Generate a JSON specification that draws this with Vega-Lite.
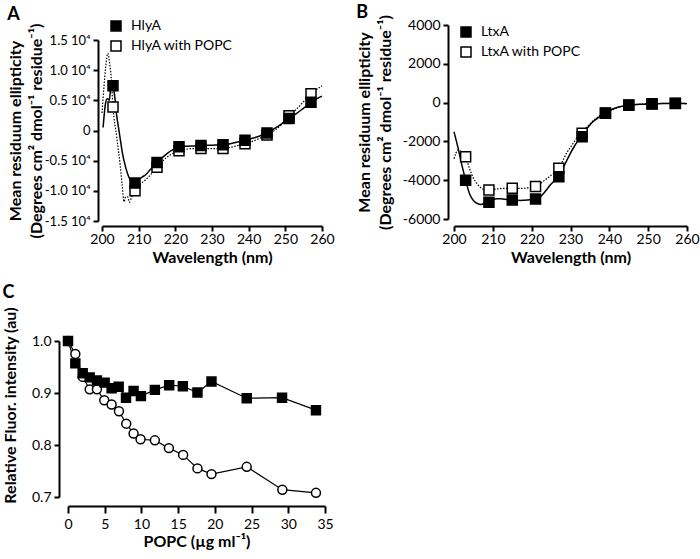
{
 "$schema": "https://vega.github.io/schema/vega-lite/v6.json",
 "padding": {"left": 2, "top": 3, "right": 0, "bottom": 2},
 "background": "white",
 "config": {
  "font": "Lato",
  "view": {"stroke": null},
  "axis": {"grid": false, "domainColor": "black", "domainWidth": 2, "tickColor": "black", "tickWidth": 2, "tickSize": 5, "labelFontSize": 14, "labelColor": "black", "titleFontSize": 16, "titleFontWeight": "bold", "titleColor": "black", "labelPadding": 3, "labelOverlap": false, "labelFlush": false},
  "title": {"fontSize": 18, "fontWeight": "bold", "anchor": "start", "frame": "bounds", "color": "black"},
  "legend": {"orient": "none", "title": null, "labelFontSize": 14, "labelColor": "black", "symbolStrokeColor": "black", "symbolStrokeWidth": 1.5, "labelOffset": 8, "rowPadding": 4}
 },
 "resolve": {"scale": {"fill": "independent", "shape": "independent", "x": "independent", "y": "independent"}, "legend": {"fill": "independent", "shape": "independent"}},
 "columns": 2,
 "spacing": {"row": 18, "column": -3},
 "datasets": {
  "A_curve": [
   {"series": "HlyA", "nm": 200.3, "v": 500}, {"series": "HlyA", "nm": 201, "v": 4600}, {"series": "HlyA", "nm": 201.5, "v": 5300}, {"series": "HlyA", "nm": 202, "v": 5000}, {"series": "HlyA", "nm": 202.5, "v": 7800}, {"series": "HlyA", "nm": 203, "v": 7400}, {"series": "HlyA", "nm": 203.5, "v": 5500}, {"series": "HlyA", "nm": 204, "v": 2500}, {"series": "HlyA", "nm": 204.5, "v": 500}, {"series": "HlyA", "nm": 205, "v": -1500}, {"series": "HlyA", "nm": 205.5, "v": -3500}, {"series": "HlyA", "nm": 206, "v": -5000}, {"series": "HlyA", "nm": 207, "v": -7200}, {"series": "HlyA", "nm": 208, "v": -8400}, {"series": "HlyA", "nm": 209, "v": -8700}, {"series": "HlyA", "nm": 210, "v": -8200}, {"series": "HlyA", "nm": 211, "v": -7700}, {"series": "HlyA", "nm": 212, "v": -7300}, {"series": "HlyA", "nm": 213, "v": -6600}, {"series": "HlyA", "nm": 214, "v": -6000}, {"series": "HlyA", "nm": 215, "v": -5300}, {"series": "HlyA", "nm": 216, "v": -4700}, {"series": "HlyA", "nm": 217, "v": -4200}, {"series": "HlyA", "nm": 218, "v": -3700}, {"series": "HlyA", "nm": 219, "v": -3300}, {"series": "HlyA", "nm": 220, "v": -3000}, {"series": "HlyA", "nm": 221, "v": -2750}, {"series": "HlyA", "nm": 223, "v": -2600}, {"series": "HlyA", "nm": 225, "v": -2550}, {"series": "HlyA", "nm": 227, "v": -2500}, {"series": "HlyA", "nm": 229, "v": -2450}, {"series": "HlyA", "nm": 231, "v": -2400}, {"series": "HlyA", "nm": 233, "v": -2350}, {"series": "HlyA", "nm": 235, "v": -2200}, {"series": "HlyA", "nm": 237, "v": -1900}, {"series": "HlyA", "nm": 239, "v": -1600}, {"series": "HlyA", "nm": 241, "v": -1300}, {"series": "HlyA", "nm": 243, "v": -900}, {"series": "HlyA", "nm": 245, "v": -400}, {"series": "HlyA", "nm": 247, "v": 300}, {"series": "HlyA", "nm": 249, "v": 1100}, {"series": "HlyA", "nm": 251, "v": 2000}, {"series": "HlyA", "nm": 253, "v": 2800}, {"series": "HlyA", "nm": 255, "v": 3700}, {"series": "HlyA", "nm": 257, "v": 4600}, {"series": "HlyA", "nm": 259, "v": 5400}, {"series": "HlyA", "nm": 260, "v": 5700},
   {"series": "HlyA with POPC", "nm": 200, "v": 2900}, {"series": "HlyA with POPC", "nm": 200.5, "v": 7000}, {"series": "HlyA with POPC", "nm": 201, "v": 10500}, {"series": "HlyA with POPC", "nm": 201.6, "v": 12800}, {"series": "HlyA with POPC", "nm": 202, "v": 11500}, {"series": "HlyA with POPC", "nm": 202.5, "v": 8900}, {"series": "HlyA with POPC", "nm": 203, "v": 3900}, {"series": "HlyA with POPC", "nm": 204, "v": -1000}, {"series": "HlyA with POPC", "nm": 205, "v": -6000}, {"series": "HlyA with POPC", "nm": 205.5, "v": -9000}, {"series": "HlyA with POPC", "nm": 206, "v": -11800}, {"series": "HlyA with POPC", "nm": 206.5, "v": -11000}, {"series": "HlyA with POPC", "nm": 207, "v": -11000}, {"series": "HlyA with POPC", "nm": 207.5, "v": -11900}, {"series": "HlyA with POPC", "nm": 208, "v": -11200}, {"series": "HlyA with POPC", "nm": 209, "v": -10000}, {"series": "HlyA with POPC", "nm": 210, "v": -9200}, {"series": "HlyA with POPC", "nm": 211, "v": -8600}, {"series": "HlyA with POPC", "nm": 212, "v": -8100}, {"series": "HlyA with POPC", "nm": 213, "v": -7500}, {"series": "HlyA with POPC", "nm": 214, "v": -6800}, {"series": "HlyA with POPC", "nm": 215, "v": -6100}, {"series": "HlyA with POPC", "nm": 216, "v": -5400}, {"series": "HlyA with POPC", "nm": 217, "v": -4800}, {"series": "HlyA with POPC", "nm": 218, "v": -4300}, {"series": "HlyA with POPC", "nm": 219, "v": -3900}, {"series": "HlyA with POPC", "nm": 220, "v": -3600}, {"series": "HlyA with POPC", "nm": 221, "v": -3350}, {"series": "HlyA with POPC", "nm": 223, "v": -3100}, {"series": "HlyA with POPC", "nm": 225, "v": -3000}, {"series": "HlyA with POPC", "nm": 227, "v": -3000}, {"series": "HlyA with POPC", "nm": 229, "v": -3000}, {"series": "HlyA with POPC", "nm": 231, "v": -3000}, {"series": "HlyA with POPC", "nm": 233, "v": -3000}, {"series": "HlyA with POPC", "nm": 235, "v": -2800}, {"series": "HlyA with POPC", "nm": 237, "v": -2500}, {"series": "HlyA with POPC", "nm": 239, "v": -2200}, {"series": "HlyA with POPC", "nm": 241, "v": -1800}, {"series": "HlyA with POPC", "nm": 243, "v": -1300}, {"series": "HlyA with POPC", "nm": 245, "v": -750}, {"series": "HlyA with POPC", "nm": 247, "v": 0}, {"series": "HlyA with POPC", "nm": 249, "v": 1000}, {"series": "HlyA with POPC", "nm": 251, "v": 2450}, {"series": "HlyA with POPC", "nm": 253, "v": 3500}, {"series": "HlyA with POPC", "nm": 255, "v": 4800}, {"series": "HlyA with POPC", "nm": 257, "v": 6100}, {"series": "HlyA with POPC", "nm": 259, "v": 7000}, {"series": "HlyA with POPC", "nm": 260, "v": 7400}
  ],
  "A_pts": [
   {"series": "HlyA with POPC", "nm": 203, "v": 3900}, {"series": "HlyA with POPC", "nm": 209, "v": -10000}, {"series": "HlyA with POPC", "nm": 215, "v": -6100}, {"series": "HlyA with POPC", "nm": 221, "v": -3350}, {"series": "HlyA with POPC", "nm": 227, "v": -3000}, {"series": "HlyA with POPC", "nm": 233, "v": -3000}, {"series": "HlyA with POPC", "nm": 239, "v": -2200}, {"series": "HlyA with POPC", "nm": 245, "v": -750}, {"series": "HlyA with POPC", "nm": 251, "v": 2450}, {"series": "HlyA with POPC", "nm": 257, "v": 6100},
   {"series": "HlyA", "nm": 203, "v": 7400}, {"series": "HlyA", "nm": 209, "v": -8700}, {"series": "HlyA", "nm": 215, "v": -5300}, {"series": "HlyA", "nm": 221, "v": -2700}, {"series": "HlyA", "nm": 227, "v": -2500}, {"series": "HlyA", "nm": 233, "v": -2350}, {"series": "HlyA", "nm": 239, "v": -1600}, {"series": "HlyA", "nm": 245, "v": -400}, {"series": "HlyA", "nm": 251, "v": 2000}, {"series": "HlyA", "nm": 257, "v": 4700}
  ],
  "B_curve": [
   {"series": "LtxA", "nm": 200, "v": -1500}, {"series": "LtxA", "nm": 201, "v": -2300}, {"series": "LtxA", "nm": 202, "v": -3200}, {"series": "LtxA", "nm": 203, "v": -4000}, {"series": "LtxA", "nm": 204, "v": -4700}, {"series": "LtxA", "nm": 205, "v": -5050}, {"series": "LtxA", "nm": 206, "v": -5200}, {"series": "LtxA", "nm": 207, "v": -5250}, {"series": "LtxA", "nm": 208, "v": -5150}, {"series": "LtxA", "nm": 209, "v": -5100}, {"series": "LtxA", "nm": 210, "v": -5000}, {"series": "LtxA", "nm": 211, "v": -4950}, {"series": "LtxA", "nm": 212, "v": -4950}, {"series": "LtxA", "nm": 213, "v": -4980}, {"series": "LtxA", "nm": 215, "v": -5020}, {"series": "LtxA", "nm": 217, "v": -5040}, {"series": "LtxA", "nm": 219, "v": -5020}, {"series": "LtxA", "nm": 221, "v": -4970}, {"series": "LtxA", "nm": 222, "v": -4900}, {"series": "LtxA", "nm": 223, "v": -4700}, {"series": "LtxA", "nm": 224, "v": -4450}, {"series": "LtxA", "nm": 225, "v": -4200}, {"series": "LtxA", "nm": 226, "v": -4000}, {"series": "LtxA", "nm": 227, "v": -3800}, {"series": "LtxA", "nm": 228, "v": -3400}, {"series": "LtxA", "nm": 229, "v": -3000}, {"series": "LtxA", "nm": 230, "v": -2600}, {"series": "LtxA", "nm": 231, "v": -2250}, {"series": "LtxA", "nm": 232, "v": -1950}, {"series": "LtxA", "nm": 233, "v": -1700}, {"series": "LtxA", "nm": 234, "v": -1400}, {"series": "LtxA", "nm": 235, "v": -1150}, {"series": "LtxA", "nm": 236, "v": -950}, {"series": "LtxA", "nm": 237, "v": -800}, {"series": "LtxA", "nm": 238, "v": -650}, {"series": "LtxA", "nm": 239, "v": -550}, {"series": "LtxA", "nm": 240, "v": -420}, {"series": "LtxA", "nm": 241, "v": -320}, {"series": "LtxA", "nm": 242, "v": -250}, {"series": "LtxA", "nm": 243, "v": -200}, {"series": "LtxA", "nm": 245, "v": -140}, {"series": "LtxA", "nm": 248, "v": -90}, {"series": "LtxA", "nm": 251, "v": -70}, {"series": "LtxA", "nm": 254, "v": -50}, {"series": "LtxA", "nm": 257, "v": -40}, {"series": "LtxA", "nm": 259, "v": -40}, {"series": "LtxA", "nm": 260, "v": -60},
   {"series": "LtxA with POPC", "nm": 200, "v": -2900}, {"series": "LtxA with POPC", "nm": 200.5, "v": -2600}, {"series": "LtxA with POPC", "nm": 201, "v": -2450}, {"series": "LtxA with POPC", "nm": 202, "v": -2550}, {"series": "LtxA with POPC", "nm": 203, "v": -2800}, {"series": "LtxA with POPC", "nm": 204, "v": -3400}, {"series": "LtxA with POPC", "nm": 205, "v": -3900}, {"series": "LtxA with POPC", "nm": 206, "v": -4200}, {"series": "LtxA with POPC", "nm": 207, "v": -4400}, {"series": "LtxA with POPC", "nm": 208, "v": -4500}, {"series": "LtxA with POPC", "nm": 209, "v": -4500}, {"series": "LtxA with POPC", "nm": 211, "v": -4450}, {"series": "LtxA with POPC", "nm": 213, "v": -4420}, {"series": "LtxA with POPC", "nm": 215, "v": -4420}, {"series": "LtxA with POPC", "nm": 217, "v": -4420}, {"series": "LtxA with POPC", "nm": 219, "v": -4400}, {"series": "LtxA with POPC", "nm": 221, "v": -4330}, {"series": "LtxA with POPC", "nm": 222, "v": -4200}, {"series": "LtxA with POPC", "nm": 223, "v": -4050}, {"series": "LtxA with POPC", "nm": 224, "v": -3900}, {"series": "LtxA with POPC", "nm": 225, "v": -3750}, {"series": "LtxA with POPC", "nm": 226, "v": -3600}, {"series": "LtxA with POPC", "nm": 227, "v": -3400}, {"series": "LtxA with POPC", "nm": 228, "v": -3000}, {"series": "LtxA with POPC", "nm": 229, "v": -2600}, {"series": "LtxA with POPC", "nm": 230, "v": -2300}, {"series": "LtxA with POPC", "nm": 231, "v": -2000}, {"series": "LtxA with POPC", "nm": 232, "v": -1750}, {"series": "LtxA with POPC", "nm": 233, "v": -1550}, {"series": "LtxA with POPC", "nm": 234, "v": -1300}, {"series": "LtxA with POPC", "nm": 235, "v": -1100}, {"series": "LtxA with POPC", "nm": 236, "v": -900}, {"series": "LtxA with POPC", "nm": 237, "v": -750}, {"series": "LtxA with POPC", "nm": 238, "v": -620}, {"series": "LtxA with POPC", "nm": 239, "v": -540}, {"series": "LtxA with POPC", "nm": 241, "v": -350}, {"series": "LtxA with POPC", "nm": 243, "v": -200}, {"series": "LtxA with POPC", "nm": 245, "v": -120}, {"series": "LtxA with POPC", "nm": 248, "v": -80}, {"series": "LtxA with POPC", "nm": 251, "v": -60}, {"series": "LtxA with POPC", "nm": 254, "v": -40}, {"series": "LtxA with POPC", "nm": 257, "v": -30}, {"series": "LtxA with POPC", "nm": 260, "v": -40}
  ],
  "B_pts": [
   {"series": "LtxA with POPC", "nm": 203, "v": -2790}, {"series": "LtxA with POPC", "nm": 209, "v": -4500}, {"series": "LtxA with POPC", "nm": 215, "v": -4420}, {"series": "LtxA with POPC", "nm": 221, "v": -4330}, {"series": "LtxA with POPC", "nm": 227, "v": -3390}, {"series": "LtxA with POPC", "nm": 233, "v": -1580}, {"series": "LtxA with POPC", "nm": 239, "v": -540}, {"series": "LtxA with POPC", "nm": 245, "v": -120}, {"series": "LtxA with POPC", "nm": 251, "v": -60}, {"series": "LtxA with POPC", "nm": 257, "v": -30},
   {"series": "LtxA", "nm": 203, "v": -4000}, {"series": "LtxA", "nm": 209, "v": -5140}, {"series": "LtxA", "nm": 215, "v": -5020}, {"series": "LtxA", "nm": 221, "v": -4970}, {"series": "LtxA", "nm": 227, "v": -3820}, {"series": "LtxA", "nm": 233, "v": -1760}, {"series": "LtxA", "nm": 239, "v": -550}, {"series": "LtxA", "nm": 245, "v": -140}, {"series": "LtxA", "nm": 251, "v": -70}, {"series": "LtxA", "nm": 257, "v": -40}
  ],
  "C_pts": [
   {"series": "LtxA", "popc": 0, "f": 1.0}, {"series": "LtxA", "popc": 1.0, "f": 0.975}, {"series": "LtxA", "popc": 2.0, "f": 0.931}, {"series": "LtxA", "popc": 2.95, "f": 0.907}, {"series": "LtxA", "popc": 3.94, "f": 0.907}, {"series": "LtxA", "popc": 4.94, "f": 0.886}, {"series": "LtxA", "popc": 5.94, "f": 0.878}, {"series": "LtxA", "popc": 6.94, "f": 0.865}, {"series": "LtxA", "popc": 7.93, "f": 0.841}, {"series": "LtxA", "popc": 8.93, "f": 0.822}, {"series": "LtxA", "popc": 9.88, "f": 0.811}, {"series": "LtxA", "popc": 11.83, "f": 0.809}, {"series": "LtxA", "popc": 13.74, "f": 0.794}, {"series": "LtxA", "popc": 15.68, "f": 0.781}, {"series": "LtxA", "popc": 17.63, "f": 0.755}, {"series": "LtxA", "popc": 19.54, "f": 0.744}, {"series": "LtxA", "popc": 24.34, "f": 0.758}, {"series": "LtxA", "popc": 29.19, "f": 0.714}, {"series": "LtxA", "popc": 33.77, "f": 0.708},
   {"series": "HlyA", "popc": 0, "f": 1.0}, {"series": "HlyA", "popc": 1.0, "f": 0.957}, {"series": "HlyA", "popc": 2.0, "f": 0.938}, {"series": "HlyA", "popc": 2.95, "f": 0.930}, {"series": "HlyA", "popc": 3.94, "f": 0.924}, {"series": "HlyA", "popc": 4.99, "f": 0.920}, {"series": "HlyA", "popc": 5.94, "f": 0.909}, {"series": "HlyA", "popc": 6.9, "f": 0.912}, {"series": "HlyA", "popc": 7.9, "f": 0.891}, {"series": "HlyA", "popc": 8.93, "f": 0.904}, {"series": "HlyA", "popc": 9.93, "f": 0.894}, {"series": "HlyA", "popc": 11.83, "f": 0.906}, {"series": "HlyA", "popc": 13.78, "f": 0.915}, {"series": "HlyA", "popc": 15.64, "f": 0.913}, {"series": "HlyA", "popc": 17.63, "f": 0.901}, {"series": "HlyA", "popc": 19.54, "f": 0.922}, {"series": "HlyA", "popc": 24.34, "f": 0.890}, {"series": "HlyA", "popc": 29.15, "f": 0.891}, {"series": "HlyA", "popc": 33.77, "f": 0.867}
  ]
 },
 "concat": [
  {
   "title": {"text": "A", "offset": -5},
   "width": 220, "height": 196,
   "resolve": {"scale": {"x": "independent", "y": "independent"}},
   "layer": [
    {
     "data": {"name": "A_curve"},
     "transform": [{"filter": "datum.series == 'HlyA with POPC'"}],
     "mark": {"type": "line", "color": "black", "strokeWidth": 1.2, "strokeDash": [1.5, 1.5], "interpolate": "monotone"},
     "encoding": {
      "x": {"field": "nm", "type": "quantitative", "scale": {"domain": [200, 260], "nice": false}, "axis": {"orient": "bottom", "title": "Wavelength (nm)", "values": [200, 220, 240, 260], "offset": 5, "labelPadding": 1, "titlePadding": 3}},
      "y": {"field": "v", "type": "quantitative", "scale": {"domain": [-15000, 15000], "nice": false, "zero": false, "range": [196, 15]}, "axis": {"orient": "left", "title": ["Mean residuum ellipticity", "(Degrees cm² dmol⁻¹ residue⁻¹)"], "titleLineHeight": 21, "values": [-15000, -5000, 5000, 15000], "labelFontSize": 13, "labelExpr": "datum.value == 0 ? '0' : (datum.value < 0 ? '-' : '') + format(abs(datum.value) / 10000, '.1f') + ' 10⁴'", "offset": 4, "titlePadding": 0}}
     }
    },
    {
     "data": {"name": "A_curve"},
     "transform": [{"filter": "datum.series == 'HlyA'"}],
     "mark": {"type": "line", "color": "black", "strokeWidth": 1.5, "interpolate": "monotone"},
     "encoding": {
      "x": {"field": "nm", "type": "quantitative", "scale": {"domain": [200, 260], "nice": false}, "axis": {"orient": "bottom", "title": null, "domain": false, "values": [210, 230, 250], "offset": 5, "labelPadding": 1}},
      "y": {"field": "v", "type": "quantitative", "scale": {"domain": [-15000, 15000], "nice": false, "zero": false, "range": [196, 15]}, "axis": {"orient": "left", "title": null, "domain": false, "values": [-10000, 0, 10000], "labelFontSize": 13, "labelExpr": "datum.value == 0 ? '0' : (datum.value < 0 ? '-' : '') + format(abs(datum.value) / 10000, '.1f') + ' 10⁴'", "offset": 4}}
     }
    },
    {
     "data": {"name": "A_pts"},
     "mark": {"type": "point", "shape": "square", "filled": true, "size": 100, "opacity": 1},
     "encoding": {
      "x": {"field": "nm", "type": "quantitative", "scale": {"domain": [200, 260], "nice": false}, "axis": null},
      "y": {"field": "v", "type": "quantitative", "scale": {"domain": [-15000, 15000], "nice": false, "zero": false, "range": [196, 15]}, "axis": null},
      "stroke": {"value": "black"},
      "strokeWidth": {"value": 1.5},
      "fill": {"field": "series", "type": "nominal", "scale": {"domain": ["HlyA", "HlyA with POPC"], "range": ["black", "white"]}, "legend": {"legendX": 7, "legendY": -6, "symbolType": "square", "symbolSize": 100}}
     }
    }
   ]
  },
  {
   "title": {"text": "B", "offset": -7},
   "width": 233, "height": 194,
   "resolve": {"scale": {"x": "independent", "y": "independent"}},
   "layer": [
    {
     "data": {"name": "B_curve"},
     "transform": [{"filter": "datum.series == 'LtxA with POPC'"}],
     "mark": {"type": "line", "color": "black", "strokeWidth": 1.2, "strokeDash": [1.5, 1.5], "interpolate": "monotone"},
     "encoding": {
      "x": {"field": "nm", "type": "quantitative", "scale": {"domain": [200, 260], "nice": false}, "axis": {"orient": "bottom", "title": "Wavelength (nm)", "values": [200, 220, 240, 260], "offset": 7, "labelPadding": 1, "titlePadding": 3}},
      "y": {"field": "v", "type": "quantitative", "scale": {"domain": [-6000, 4000], "nice": false, "zero": false}, "axis": {"orient": "left", "title": ["Mean residuum ellipticity", "(Degrees cm² dmol⁻¹ residue⁻¹)"], "titleLineHeight": 21, "values": [-6000, -2000, 2000], "labelExpr": "(datum.value < 0 ? '-' : '') + abs(datum.value)", "offset": 6, "titlePadding": 9}}
     }
    },
    {
     "data": {"name": "B_curve"},
     "transform": [{"filter": "datum.series == 'LtxA'"}],
     "mark": {"type": "line", "color": "black", "strokeWidth": 1.5, "interpolate": "monotone"},
     "encoding": {
      "x": {"field": "nm", "type": "quantitative", "scale": {"domain": [200, 260], "nice": false}, "axis": {"orient": "bottom", "title": null, "domain": false, "values": [210, 230, 250], "offset": 7, "labelPadding": 1}},
      "y": {"field": "v", "type": "quantitative", "scale": {"domain": [-6000, 4000], "nice": false, "zero": false}, "axis": {"orient": "left", "title": null, "domain": false, "values": [-4000, 0, 4000], "labelExpr": "(datum.value < 0 ? '-' : '') + abs(datum.value)", "offset": 6}}
     }
    },
    {
     "data": {"name": "B_pts"},
     "mark": {"type": "point", "shape": "square", "filled": true, "size": 100, "opacity": 1},
     "encoding": {
      "x": {"field": "nm", "type": "quantitative", "scale": {"domain": [200, 260], "nice": false}, "axis": null},
      "y": {"field": "v", "type": "quantitative", "scale": {"domain": [-6000, 4000], "nice": false, "zero": false}, "axis": null},
      "stroke": {"value": "black"},
      "strokeWidth": {"value": 1.5},
      "fill": {"field": "series", "type": "nominal", "scale": {"domain": ["LtxA", "LtxA with POPC"], "range": ["black", "white"]}, "legend": {"legendX": 5, "legendY": 0, "symbolType": "square", "symbolSize": 100}}
     }
    }
   ]
  },
  {
   "title": {"text": "C", "offset": 5},
   "width": 223, "height": 156,
   "data": {"name": "C_pts"},
   "resolve": {"scale": {"x": "independent"}},
   "layer": [
    {
     "mark": {"type": "line", "color": "black", "strokeWidth": 1.2},
     "encoding": {
      "x": {"field": "popc", "type": "quantitative", "scale": {"domain": [0, 35], "nice": false, "zero": false, "range": [-34, 223]}, "axis": {"orient": "bottom", "title": "POPC (µg ml⁻¹)", "values": [0, 10, 20, 30], "offset": 9, "tickSize": 7, "labelPadding": 4, "titlePadding": 2}},
      "y": {"field": "f", "type": "quantitative", "scale": {"domain": [0.7, 1.0], "nice": false, "zero": false}, "axis": {"title": "Relative Fluor. intensity (au)", "values": [0.7, 0.8, 0.9, 1.0], "format": ".1f", "offset": 43, "titlePadding": 13, "titleY": 64}},
      "detail": {"field": "series", "type": "nominal"}
     }
    },
    {
     "mark": {"type": "point", "filled": true, "size": 80, "opacity": 1},
     "encoding": {
      "x": {"field": "popc", "type": "quantitative", "scale": {"domain": [0, 35], "nice": false, "zero": false, "range": [-34, 223]}, "axis": {"orient": "bottom", "title": null, "domain": false, "values": [5, 15, 25, 35], "offset": 9, "tickSize": 7, "labelPadding": 4}},
      "y": {"field": "f", "type": "quantitative"},
      "stroke": {"value": "black"},
      "strokeWidth": {"value": 1.5},
      "shape": {"field": "series", "type": "nominal", "scale": {"domain": ["HlyA", "LtxA"], "range": ["square", "circle"]}, "legend": null},
      "fill": {"field": "series", "type": "nominal", "scale": {"domain": ["HlyA", "LtxA"], "range": ["black", "white"]}, "legend": {"legendX": -30, "legendY": 122, "symbolType": "square", "symbolSize": 80}}
     }
    }
   ]
  }
 ]
}
